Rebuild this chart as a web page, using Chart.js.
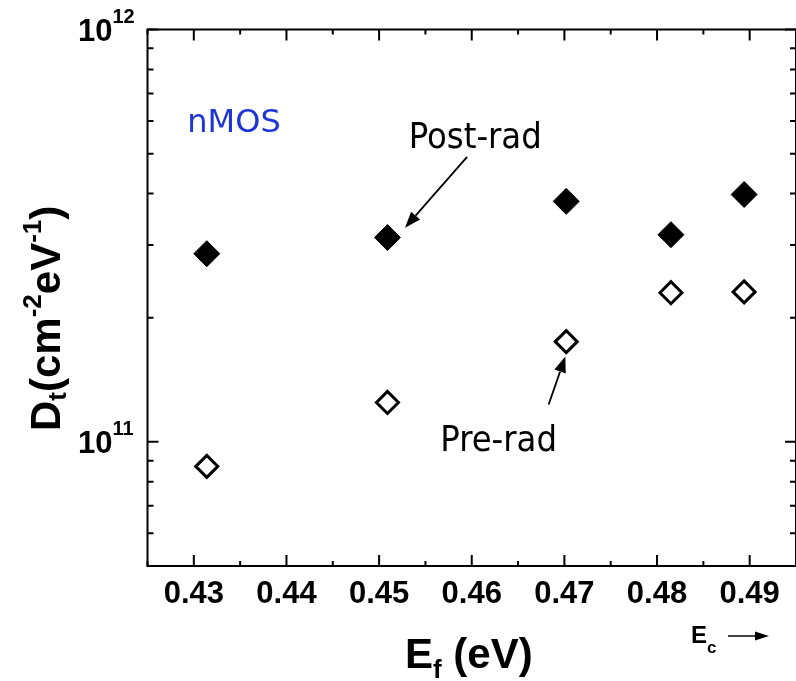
<!DOCTYPE html>
<html>
<head>
<meta charset="utf-8">
<script src="https://cdn.jsdelivr.net/npm/chart.js@4.4.0/dist/chart.umd.min.js"></script>
<style>
html, body { margin: 0; padding: 0; background: #fff; overflow: hidden; }
#wrap { width: 810px; height: 681px; }
</style>
</head>
<body>
<div id="wrap"><canvas id="chartdt" width="810" height="681"></canvas></div>
<script>
// Fermi level positions (eV) and interface trap density (cm^-2 eV^-1)
const energies = [0.4314, 0.4509, 0.4702, 0.4815, 0.4894];
const postRad = [2.86e11, 3.13e11, 3.83e11, 3.18e11, 3.98e11];
const preRad = [8.72e10, 1.246e11, 1.75e11, 2.30e11, 2.31e11];

const xMajorTicks = [0.43, 0.44, 0.45, 0.46, 0.47, 0.48, 0.49];
const xMinorTicks = [0.425, 0.435, 0.445, 0.455, 0.465, 0.475, 0.485, 0.495];
const yMajorTicks = [1e11, 1e12];
const yMajorLabels = ['11', '12'];
const yMinorTicks = [5e10, 6e10, 7e10, 8e10, 9e10, 2e11, 3e11, 4e11, 5e11, 6e11, 7e11, 8e11, 9e11];

const FONT = '"Liberation Sans", Arial, sans-serif';

function richText(ctx, parts, x, y) {
    let cx = x;
    parts.forEach(p => {
        ctx.font = 'bold ' + p.size + 'px ' + FONT;
        ctx.fillText(p.t, cx, y + (p.dy || 0));
        cx += ctx.measureText(p.t).width;
    });
    return cx;
}

function arrow(ctx, x1, y1, x2, y2, head, half) {
    const a = Math.atan2(y2 - y1, x2 - x1);
    const bx = x2 - head * Math.cos(a), by = y2 - head * Math.sin(a);
    ctx.beginPath();
    ctx.moveTo(x1, y1);
    ctx.lineTo(bx, by);
    ctx.stroke();
    ctx.beginPath();
    ctx.moveTo(x2, y2);
    ctx.lineTo(bx + half * Math.sin(a), by - half * Math.cos(a));
    ctx.lineTo(bx - half * Math.sin(a), by + half * Math.cos(a));
    ctx.closePath();
    ctx.fill();
}

const frameAndLabels = {
    id: 'frameAndLabels',
    beforeDatasetsDraw(chart) {
        const ctx = chart.ctx;
        const a = chart.chartArea;
        const xs = chart.scales.x, ys = chart.scales.y;
        ctx.save();
        ctx.strokeStyle = '#000';
        ctx.lineWidth = 2;
        ctx.strokeRect(a.left, a.top, a.right - a.left, a.bottom - a.top);

        ctx.beginPath();
        xMajorTicks.forEach(v => {
            const px = xs.getPixelForValue(v);
            ctx.moveTo(px, a.bottom); ctx.lineTo(px, a.bottom - 11);
            ctx.moveTo(px, a.top); ctx.lineTo(px, a.top + 11);
        });
        xMinorTicks.forEach(v => {
            const px = xs.getPixelForValue(v);
            ctx.moveTo(px, a.bottom); ctx.lineTo(px, a.bottom - 5);
            ctx.moveTo(px, a.top); ctx.lineTo(px, a.top + 5);
        });
        yMajorTicks.forEach(v => {
            const py = ys.getPixelForValue(v);
            ctx.moveTo(a.left, py); ctx.lineTo(a.left + 11, py);
            ctx.moveTo(a.right, py); ctx.lineTo(a.right - 11, py);
        });
        yMinorTicks.forEach(v => {
            const py = ys.getPixelForValue(v);
            ctx.moveTo(a.left, py); ctx.lineTo(a.left + 6, py);
            ctx.moveTo(a.right, py); ctx.lineTo(a.right - 6, py);
        });
        ctx.stroke();

        // tick labels
        ctx.fillStyle = '#000';
        ctx.font = 'bold 31px ' + FONT;
        ctx.textAlign = 'center';
        ctx.textBaseline = 'middle';
        xMajorTicks.forEach(v => {
            ctx.fillText(v.toFixed(2), xs.getPixelForValue(v), 594);
        });
        ctx.textAlign = 'left';
        ctx.textBaseline = 'alphabetic';
        yMajorTicks.forEach((v, i) => {
            const py = ys.getPixelForValue(v);
            richText(ctx, [{t: '10', size: 31}, {t: yMajorLabels[i], size: 20, dy: -18}], 78, py + 11);
        });

        // axis titles
        richText(ctx, [{t: 'E', size: 42}, {t: 'f', size: 26, dy: 10}, {t: ' (eV)', size: 42}], 405, 668);
        ctx.save();
        ctx.translate(60, 431);
        ctx.rotate(-Math.PI / 2);
        richText(ctx, [
            {t: 'D', size: 42}, {t: 't', size: 26, dy: 6},
            {t: '(cm', size: 42}, {t: '-2', size: 26, dy: -19},
            {t: 'eV', size: 42}, {t: '-1', size: 26, dy: -19},
            {t: ')', size: 42}
        ], 0, 0);
        ctx.restore();

        // Ec arrow
        richText(ctx, [{t: 'E', size: 24}, {t: 'c', size: 17, dy: 10}], 691, 643);
        ctx.lineWidth = 1.5;
        arrow(ctx, 728, 636, 769, 636, 14, 4.5);
        ctx.restore();
    },
    afterDraw(chart) {
        const ctx = chart.ctx;
        const xs = chart.scales.x, ys = chart.scales.y;
        ctx.save();
        ctx.textAlign = 'left';
        ctx.textBaseline = 'alphabetic';
        ctx.font = '32px "DejaVu Sans", Verdana, sans-serif';
        ctx.fillStyle = '#1f35d6';
        ctx.fillText('nMOS', xs.getPixelForValue(0.4293), ys.getPixelForValue(5.65e11));
        ctx.fillStyle = '#000';
        ctx.font = '36px "DejaVu Sans Condensed", "DejaVu Sans", sans-serif';
        ctx.fillText('Post-rad', xs.getPixelForValue(0.4532), ys.getPixelForValue(5.17e11));
        ctx.fillText('Pre-rad', xs.getPixelForValue(0.4566), ys.getPixelForValue(9.48e10));
        ctx.strokeStyle = '#000';
        ctx.lineWidth = 1.8;
        arrow(ctx, xs.getPixelForValue(0.4595), ys.getPixelForValue(4.91e11),
            xs.getPixelForValue(0.4528), ys.getPixelForValue(3.307e11), 16, 6);
        arrow(ctx, xs.getPixelForValue(0.4683), ys.getPixelForValue(1.232e11),
            xs.getPixelForValue(0.4701), ys.getPixelForValue(1.611e11), 16, 6);
        ctx.restore();
    }
};

const config = {
    type: 'scatter',
    data: {
        datasets: [{
            label: 'Post-rad',
            data: energies.map((e, i) => ({x: e, y: postRad[i]})),
            pointStyle: 'rectRot',
            pointRadius: 13,
            backgroundColor: '#000',
            borderColor: '#000',
            borderWidth: 1,
        }, {
            label: 'Pre-rad',
            data: energies.map((e, i) => ({x: e, y: preRad[i]})),
            pointStyle: 'rectRot',
            pointRadius: 11,
            backgroundColor: '#fff',
            borderColor: '#000',
            borderWidth: 3,
        }]
    },
    options: {
        responsive: false,
        animation: false,
        events: [],
        layout: {
            padding: {left: 147.5, top: 29.5, right: 10, bottom: 115},
        },
        scales: {
            x: {type: 'linear', min: 0.425, max: 0.495, display: false},
            y: {type: 'logarithmic', min: 5e10, max: 1e12, display: false},
        },
        plugins: {
            legend: {display: false},
            tooltip: {enabled: false},
        },
    },
    plugins: [frameAndLabels],
};

const chartdt = new Chart(document.getElementById('chartdt'), config);
</script>
</body>
</html>
